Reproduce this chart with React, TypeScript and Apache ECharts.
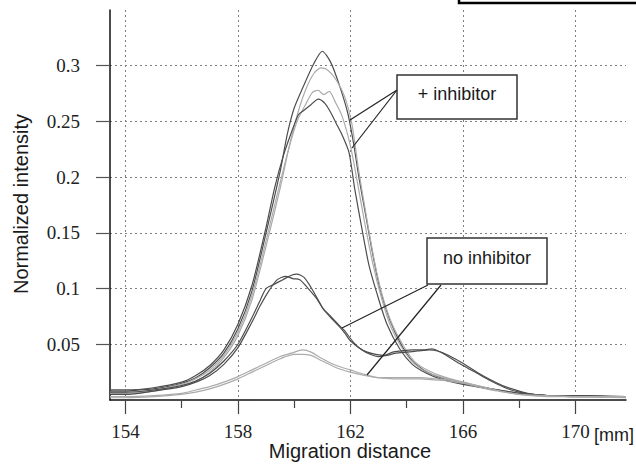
import React, { useEffect, useRef } from "react";
import * as echarts from "echarts";

// ---- Data ----
// "+ inhibitor" traces
const incA_x = [153.45, 154, 154.5, 155, 155.5, 156, 156.5, 157, 157.5, 158, 158.5, 159, 159.5, 159.75, 160, 160.3, 160.7, 161.0, 161.3, 161.6, 161.9, 162.1, 162.3, 162.55, 162.8, 163.05, 163.4, 163.8, 164.2, 164.6, 165, 165.5, 166, 166.5, 167, 167.5, 168, 168.5, 169, 170, 171, 171.8];
const incA_y = [0.008, 0.008, 0.009, 0.010, 0.012, 0.015, 0.020, 0.029, 0.042, 0.064, 0.098, 0.150, 0.205, 0.238, 0.262, 0.280, 0.302, 0.313, 0.303, 0.283, 0.258, 0.232, 0.200, 0.165, 0.130, 0.100, 0.072, 0.050, 0.035, 0.027, 0.022, 0.018, 0.015, 0.012, 0.010, 0.008, 0.006, 0.005, 0.004, 0.004, 0.003, 0.003];

const incB_x = [153.45, 154, 155, 156, 156.5, 157, 157.5, 158, 158.5, 159, 159.5, 159.8, 160.1, 160.4, 160.7, 160.95, 161.2, 161.5, 161.8, 162.05, 162.3, 162.6, 162.85, 163.1, 163.45, 163.9, 164.3, 164.8, 165.3, 166, 167, 168, 169, 170, 171.8];
const incB_y = [0.006, 0.006, 0.008, 0.013, 0.017, 0.025, 0.038, 0.058, 0.090, 0.138, 0.190, 0.225, 0.255, 0.278, 0.293, 0.298, 0.296, 0.287, 0.272, 0.248, 0.205, 0.160, 0.125, 0.097, 0.070, 0.048, 0.034, 0.026, 0.021, 0.016, 0.010, 0.006, 0.004, 0.004, 0.003];

const incC_x = [153.45, 154, 155, 156, 156.5, 157, 157.5, 158, 158.5, 159, 159.5, 159.8, 160.1, 160.4, 160.65, 160.85, 161.05, 161.25, 161.45, 161.7, 162.0, 162.25, 162.5, 162.8, 163.1, 163.45, 163.9, 164.3, 164.8, 165.3, 166, 167, 168, 169, 170, 171.8];
const incC_y = [0.007, 0.007, 0.009, 0.014, 0.019, 0.027, 0.040, 0.061, 0.094, 0.143, 0.195, 0.225, 0.250, 0.265, 0.276, 0.278, 0.274, 0.277, 0.268, 0.255, 0.228, 0.195, 0.160, 0.122, 0.092, 0.065, 0.044, 0.032, 0.024, 0.020, 0.015, 0.010, 0.006, 0.004, 0.003, 0.003];

const incD_x = [153.45, 154, 155, 156, 156.5, 157, 157.5, 158, 158.5, 159, 159.3, 159.6, 159.9, 160.15, 160.35, 160.55, 160.86, 161.1, 161.3, 161.5, 161.7, 161.95, 162.15, 162.4, 162.65, 162.95, 163.3, 163.75, 164.2, 164.7, 165.2, 166, 167, 168, 169, 170, 171.8];
const incD_y = [0.009, 0.009, 0.011, 0.016, 0.022, 0.031, 0.045, 0.068, 0.103, 0.155, 0.190, 0.218, 0.240, 0.256, 0.260, 0.264, 0.270, 0.266, 0.258, 0.248, 0.238, 0.222, 0.190, 0.155, 0.122, 0.095, 0.068, 0.046, 0.032, 0.024, 0.019, 0.014, 0.010, 0.006, 0.004, 0.004, 0.003];

// "no inhibitor" traces
const noE_x = [153.45, 154, 155, 156, 156.5, 157, 157.5, 158, 158.5, 158.8, 159, 159.3, 159.6, 159.9, 160.1, 160.35, 160.6, 160.85, 161.05, 161.3, 161.6, 161.8, 162.0, 162.3, 162.6, 162.9, 163.2, 163.5, 163.8, 164.2, 164.6, 164.9, 165.2, 165.6, 166.0, 166.5, 167.0, 167.5, 168.0, 168.5, 169, 170, 171.8];
const noE_y = [0.007, 0.007, 0.009, 0.013, 0.017, 0.024, 0.035, 0.050, 0.074, 0.090, 0.100, 0.104, 0.108, 0.112, 0.113, 0.110, 0.101, 0.090, 0.081, 0.074, 0.066, 0.060, 0.053, 0.047, 0.043, 0.041, 0.040, 0.043, 0.044, 0.045, 0.045, 0.046, 0.043, 0.037, 0.031, 0.024, 0.017, 0.011, 0.007, 0.005, 0.004, 0.004, 0.003];

const noF_x = [153.45, 154, 155, 156, 156.5, 157, 157.5, 158, 158.5, 158.8, 159.1, 159.4, 159.7, 159.95, 160.2, 160.5, 160.8, 161.0, 161.3, 161.6, 161.8, 162.1, 162.4, 162.7, 163.0, 163.3, 163.6, 164.0, 164.4, 164.8, 165.1, 165.5, 166.0, 166.5, 167.0, 167.5, 168.0, 168.5, 169, 170, 171.8];
const noF_y = [0.005, 0.005, 0.008, 0.012, 0.016, 0.022, 0.032, 0.047, 0.070, 0.085, 0.098, 0.108, 0.111, 0.109, 0.108, 0.100, 0.091, 0.083, 0.075, 0.067, 0.062, 0.052, 0.045, 0.041, 0.039, 0.040, 0.042, 0.043, 0.044, 0.045, 0.044, 0.040, 0.033, 0.025, 0.018, 0.012, 0.008, 0.005, 0.004, 0.003, 0.003];

const noG_x = [153.45, 154, 155, 156, 156.5, 157, 157.5, 158, 158.5, 159, 159.5, 159.9, 160.3, 160.6, 161, 161.5, 162, 162.5, 163, 163.5, 164, 164.5, 165, 165.5, 166, 166.5, 167, 167.5, 168, 169, 170, 171.8];
const noG_y = [0.003, 0.003, 0.004, 0.006, 0.009, 0.012, 0.016, 0.021, 0.027, 0.033, 0.039, 0.042, 0.045, 0.043, 0.037, 0.031, 0.027, 0.023, 0.020, 0.020, 0.020, 0.020, 0.019, 0.018, 0.016, 0.013, 0.010, 0.007, 0.005, 0.004, 0.003, 0.003];

const noH_x = [153.45, 154, 155, 156, 156.5, 157, 157.5, 158, 158.5, 159, 159.5, 160, 160.3, 160.6, 161, 161.5, 162, 162.5, 163, 163.5, 164, 164.5, 165, 165.5, 166, 166.5, 167, 167.5, 168, 169, 170, 171.8];
const noH_y = [0.002, 0.002, 0.003, 0.005, 0.007, 0.010, 0.014, 0.019, 0.025, 0.031, 0.037, 0.041, 0.041, 0.040, 0.035, 0.029, 0.025, 0.022, 0.020, 0.019, 0.019, 0.019, 0.018, 0.017, 0.015, 0.012, 0.009, 0.007, 0.005, 0.003, 0.003, 0.002];

const xMajorTicks = [154, 158, 162, 166, 170];
const xMinorTicks = [156, 160, 164, 168];
const yTicks = [0.05, 0.1, 0.15, 0.2, 0.25, 0.3];

const DARK = "#4d4d4d";
const LIGHT = "#ababab";

const traces = [
  { name: "+inh A", xs: incA_x, ys: incA_y, color: DARK },
  { name: "+inh B", xs: incB_x, ys: incB_y, color: LIGHT },
  { name: "+inh C", xs: incC_x, ys: incC_y, color: LIGHT },
  { name: "+inh D", xs: incD_x, ys: incD_y, color: DARK },
  { name: "no E", xs: noE_x, ys: noE_y, color: DARK },
  { name: "no F", xs: noF_x, ys: noF_y, color: DARK },
  { name: "no G", xs: noG_x, ys: noG_y, color: LIGHT },
  { name: "no H", xs: noH_x, ys: noH_y, color: LIGHT },
];

export default function App() {
  const ref = useRef<HTMLDivElement>(null);

  useEffect(() => {
    if (!ref.current) return;
    const chart = echarts.init(ref.current, null, { renderer: "svg" });
    const serif = "Liberation Serif, Times New Roman, serif";
    const sans = "Liberation Sans, Arial, sans-serif";
    const gridLine = { show: true, lineStyle: { color: "#808080", type: [2, 3] as any, width: 1 } };
    const labelStyle = { fontFamily: serif, fontSize: 19, color: "#222", fontWeight: "normal" };
    const txt = (x: number, y: number, text: string, size: number, align: string, extra: any = {}) => ({
      type: "text",
      x,
      y,
      z: 100,
      ...extra,
      style: { text, fontFamily: sans, fontSize: size, fill: "#1a1a1a", textAlign: align, textVerticalAlign: "middle" },
    });

    chart.setOption({
      animation: false,
      backgroundColor: "#ffffff",
      textStyle: { fontFamily: serif },
      grid: { left: 110, right: 10, top: 10, bottom: 74, containLabel: false },
      xAxis: [
        {
          type: "value",
          min: 153.45,
          max: 171.8,
          axisLine: { show: true, lineStyle: { color: "#111", width: 1.5 } },
          axisTick: { show: true, customValues: xMajorTicks, length: 14, lineStyle: { color: "#444", width: 1.2 } },
          axisLabel: { customValues: xMajorTicks, margin: 22, ...labelStyle },
          splitLine: gridLine,
        },
        {
          type: "value",
          position: "bottom",
          min: 153.45,
          max: 171.8,
          axisLine: { show: false },
          axisTick: { show: true, customValues: xMinorTicks, length: 8, lineStyle: { color: "#444", width: 1.2 } },
          axisLabel: { show: false },
          splitLine: { show: false },
        },
      ],
      yAxis: {
        type: "value",
        min: 0,
        max: 0.35,
        axisLine: { show: true, lineStyle: { color: "#111", width: 1.5 } },
        axisTick: { show: true, customValues: yTicks, length: 14, lineStyle: { color: "#555", width: 1.2 } },
        axisLabel: { customValues: yTicks, margin: 30, ...labelStyle },
        splitLine: gridLine,
      },
      series: traces.map((t) => ({
        name: t.name,
        type: "line",
        xAxisIndex: 0,
        showSymbol: false,
        symbol: "none",
        smooth: 0.25,
        lineStyle: { color: t.color, width: 1.2 },
        data: t.xs.map((x, i) => [x, t.ys[i]]),
      })),
      graphic: [
        // top-right cropped box edge
        { type: "rect", z: 100, shape: { x: 459, y: -10, width: 200, height: 13 }, style: { fill: "none", stroke: "#000", lineWidth: 2.5 } },
        // "+ inhibitor" annotation
        { type: "line", z: 100, shape: { x1: 397, y1: 90, x2: 350, y2: 120 }, style: { stroke: "#222", lineWidth: 1.2 } },
        { type: "line", z: 100, shape: { x1: 397, y1: 90, x2: 352, y2: 148 }, style: { stroke: "#222", lineWidth: 1.2 } },
        { type: "rect", z: 100, shape: { x: 397, y: 75, width: 120, height: 44 }, style: { fill: "#fff", stroke: "#333", lineWidth: 1.5 } },
        txt(457, 94, "+ inhibitor", 18, "center"),
        // "no inhibitor" annotation
        { type: "line", z: 100, shape: { x1: 428, y1: 285, x2: 342, y2: 328 }, style: { stroke: "#222", lineWidth: 1.2 } },
        { type: "line", z: 100, shape: { x1: 441, y1: 285, x2: 367, y2: 375 }, style: { stroke: "#222", lineWidth: 1.2 } },
        { type: "rect", z: 100, shape: { x: 427, y: 238, width: 120, height: 46 }, style: { fill: "#fff", stroke: "#333", lineWidth: 1.5 } },
        txt(487, 258, "no inhibitor", 18, "center"),
        // axis titles
        txt(21, 204, "Normalized intensity", 20, "center", { rotation: Math.PI / 2 }),
        txt(350, 451, "Migration distance", 20, "center"),
        txt(594, 435, "[mm]", 18, "left"),
      ],
    });

    return () => chart.dispose();
  }, []);

  return <div ref={ref} style={{ position: "absolute", left: 0, top: 0, width: 636, height: 474 }} />;
}
